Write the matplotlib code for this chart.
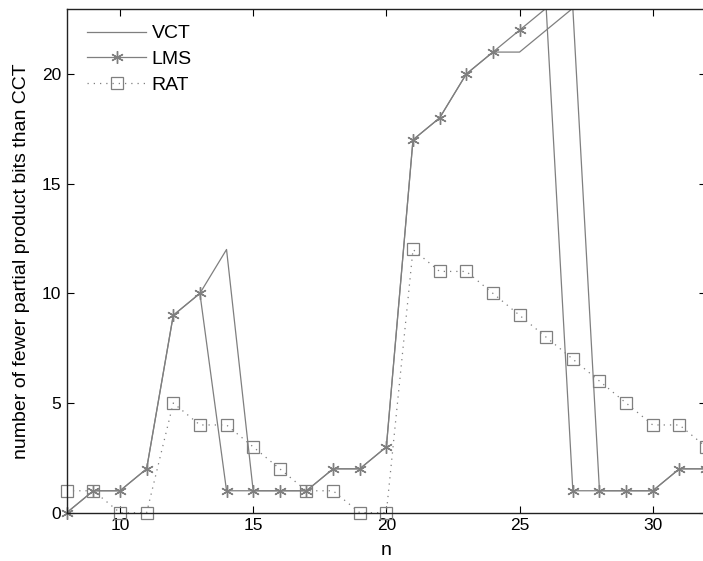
import matplotlib
matplotlib.use('Agg')
import matplotlib.pyplot as plt

# 数据
n = list(range(8, 33))
vct = [0, 1, 1, 2, 9, 10, 12, 1, 1, 1, 2, 2, 3, 17, 18, 20, 21, 21, 22, 23, 1, 1, 1, 2, 2]
lms = [0, 1, 1, 2, 9, 10, 1, 1, 1, 1, 2, 2, 3, 17, 18, 20, 21, 22, 23, 1, 1, 1, 1, 2, 2]
rat = [1, 1, 0, 0, 5, 4, 4, 3, 2, 1, 1, 0, 0, 12, 11, 11, 10, 9, 8, 7, 6, 5, 4, 4, 3]
xticks = [10, 15, 20, 25, 30]
yticks = [0, 5, 10, 15, 20]
ytop = 22.95

plt.rcParams['font.family'] = ['Liberation Sans', 'DejaVu Sans']

fig = plt.figure(figsize=(7.03, 5.61), dpi=100)
ax = fig.add_axes([0.0949, 0.0861, 0.9094, 0.8973])

gray = '#7f7f7f'
star = (6, 2, 0)

# 线（裁剪在坐标轴内）
ax.plot(n, vct, color=gray, linewidth=0.9)
ax.plot(n, lms, color=gray, linewidth=0.9)
ax.plot(n, rat, color=gray, linewidth=0.9, linestyle=(0, (1, 4)))

# 标记（只画坐标范围内的点，不裁剪）
lx = [a for a, b in zip(n, lms) if b <= ytop]
ly = [b for b in lms if b <= ytop]
ax.plot(lx, ly, linestyle='none', marker=star, markersize=9,
        markeredgewidth=1.0, color=gray, clip_on=False)
ax.plot(n, rat, linestyle='none', marker='s', markersize=9,
        markerfacecolor='none', markeredgewidth=0.9, color=gray, clip_on=False)

# 图例
ax.plot([], [], color=gray, linewidth=0.9, label='VCT')
ax.plot([], [], color=gray, linewidth=0.9, marker=star, markersize=9,
        markeredgewidth=1.0, label='LMS')
ax.plot([], [], color=gray, linewidth=0.9, linestyle=(0, (1, 4)), marker='s',
        markersize=9, markerfacecolor='none', markeredgewidth=0.9, label='RAT')

ax.set_xlim(8, 32)
ax.set_ylim(0, ytop)
ax.set_xticks(xticks)
ax.set_yticks(yticks)
ax.tick_params(direction='in', top=True, right=True, length=5, labelsize=12.5,
               width=0.8, pad=4)
for s in ax.spines.values():
    s.set_linewidth(1.0)
    s.set_color('#222222')

ax.set_xlabel('n', fontsize=14, labelpad=6)
ax.set_ylabel('number of fewer partial product bits than CCT', fontsize=14, labelpad=8.5)

ax.legend(loc='upper left', frameon=False, fontsize=14, handlelength=3.0,
          handletextpad=0.3, labelspacing=0.42, borderaxespad=0.4,
          bbox_to_anchor=(0.008, 1.0))

plt.savefig('out.png', dpi=100)
plt.close()
